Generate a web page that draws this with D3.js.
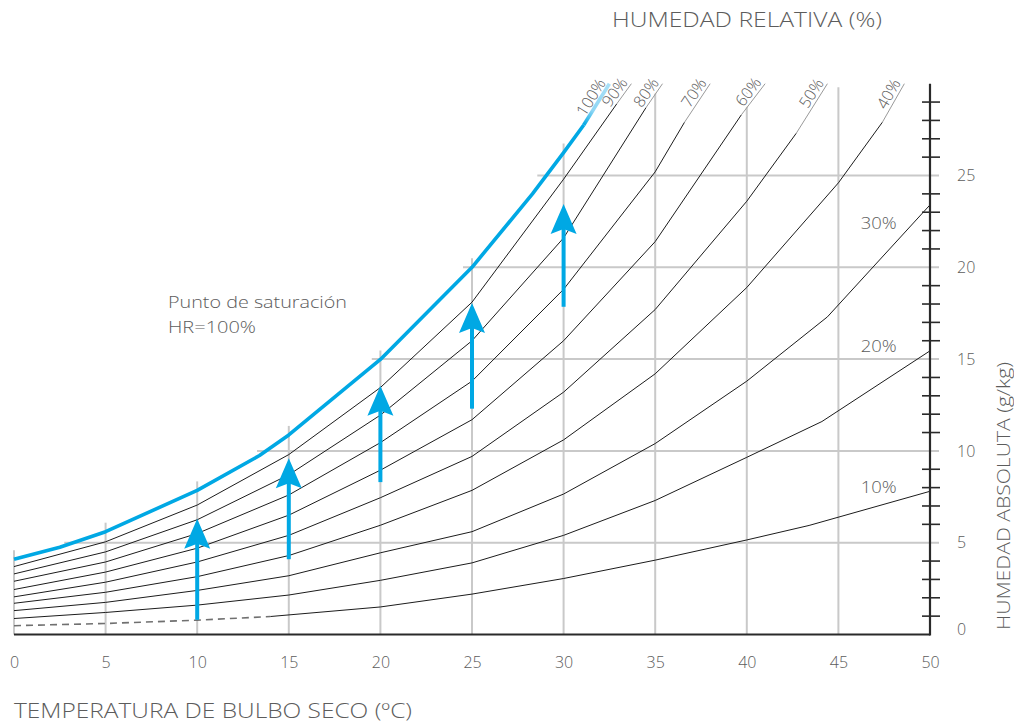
<!DOCTYPE html>
<html>
<head>
<meta charset="utf-8">
<script src="https://cdn.jsdelivr.net/npm/d3@7"></script>
<style>
  body { margin: 0; background: #fff; }
  text { font-family: "Open Sans", "Noto Sans", sans-serif; font-weight: 300; fill: #5c5c5c; }
</style>
</head>
<body>
<svg id="chart" width="1014" height="723"></svg>
<script>
// Relative-humidity curves: [dry-bulb temperature °C, absolute humidity g/kg].
// Curves that reach the top of the chart end with a short leader segment.
const rh100 = [[0,4.1],[2.5,4.75],[5,5.6],[10,7.85],[13.4,9.75],[15,10.87],[20,14.98],[25,20.0],[28.3,24.0],[30,26.25],[31.1,27.75],[32.5,30]];
const rh90  = [[0,3.7],[5,5.05],[10,7.05],[15,9.8],[20,13.45],[25,18.1],[30,24.8],[32.9,28.9],[33.7,30]];
const rh80  = [[0,3.3],[5,4.5],[10,6.25],[15,8.7],[20,11.95],[25,16.0],[30,21.6],[34.5,28.7],[35.4,30]];
const rh70  = [[0,2.9],[5,3.95],[10,5.5],[15,7.6],[20,10.45],[25,13.8],[30,18.8],[35,25.2],[36.6,27.9],[38,30]];
const rh60  = [[0,2.45],[5,3.4],[10,4.7],[15,6.5],[20,8.95],[25,11.7],[30,16.0],[35,21.4],[39.7,28.3],[41,30]];
const rh50  = [[0,2.05],[5,2.85],[10,3.95],[15,5.4],[20,7.45],[25,9.7],[30,13.2],[35,17.7],[40,23.6],[42.7,27.3],[44.4,30]];
const rh40  = [[0,1.7],[5,2.3],[10,3.15],[15,4.3],[20,5.95],[25,7.85],[30,10.6],[35,14.2],[40,18.9],[45,24.6],[47.4,27.9],[48.6,30]];
const rh30  = [[0,1.3],[5,1.75],[10,2.4],[15,3.2],[20,4.45],[25,5.6],[30,7.65],[35,10.4],[40,13.8],[44.4,17.3],[50,23.4]];
const rh20  = [[0,0.87],[5,1.2],[10,1.6],[15,2.15],[20,2.95],[25,3.9],[30,5.4],[35,7.3],[40,9.65],[44.1,11.6],[50,15.45]];
const rh10  = [[0,0.48],[5,0.6],[10,0.78],[14,0.98],[20,1.5],[25,2.2],[30,3.05],[35,4.05],[40,5.15],[43.4,5.94],[50,7.8]];
const rhLevels = [100, 90, 80, 70, 60, 50, 40, 30, 20, 10];
const dashedUntil = 14;            // the 10 % curve is dashed below this temperature

// Humidification arrows: temperature, start and end humidity (g/kg)
const arrowTemp = [10, 15, 20, 25, 30];
const arrowFrom = [0.8, 4.1, 8.3, 12.3, 17.85];
const arrowTo   = [6.3, 9.6, 13.55, 18.05, 23.45];

// Axis ticks
const tempTicks = [0, 5, 10, 15, 20, 25, 30, 35, 40, 45, 50];
const humTicks  = [0, 5, 10, 15, 20, 25];
const humMinor  = d3.range(1, 30).filter(v => v % 5 !== 0);

const curves = [rh100, rh90, rh80, rh70, rh60, rh50, rh40, rh30, rh20, rh10];

const svg = d3.select("#chart");
const x = d3.scaleLinear().domain([0, 50]).range([14, 930]);
const y = d3.scaleLinear().domain([0, 30]).range([634.5, 83.7]);

const BLUE = "#00a8e4", GRID = "#c9c9c9", AXIS = "#2a2a2a";

// saturation humidity along the 100 % curve, and its inverse
const satT = rh100.map(d => d[0]), satW = rh100.map(d => d[1]);
const satAt = t => {
  for (let i = 1; i < satT.length; i++) if (t <= satT[i])
    return satW[i-1] + (satW[i] - satW[i-1]) * (t - satT[i-1]) / (satT[i] - satT[i-1]);
  return satW[satW.length - 1];
};
const tempAtSat = w => {
  for (let i = 1; i < satW.length; i++) if (w <= satW[i])
    return satT[i-1] + (satT[i] - satT[i-1]) * (w - satW[i-1]) / (satW[i] - satW[i-1]);
  return satT[satT.length - 1];
};

// ---- grid (only below the saturation curve) ----
const grid = svg.append("g").attr("stroke", GRID).attr("stroke-width", 2);
tempTicks.filter(t => t < 50).forEach(t => {
  const top = t <= satT[satT.length - 1] ? Math.max(y(satAt(t)) - 9, y(29.8)) : y(29.8);
  grid.append("line").attr("x1", x(t)).attr("x2", x(t)).attr("y1", top).attr("y2", y(0));
});
humTicks.filter(v => v > 0).forEach(v => {
  grid.append("line").attr("x1", x(tempAtSat(v)) - 9).attr("x2", 939)
    .attr("y1", y(v)).attr("y2", y(v));
});

// ---- curve labels along the top leaders ----
const line = d3.line().x(d => x(d[0])).y(d => y(d[1]));
const labels = svg.append("g");
curves.forEach((pts, i) => {
  const last = pts[pts.length - 1];
  if (last[1] < 30) return;
  const a = pts[pts.length - 2];
  const ang = Math.atan2(y(last[1]) - y(a[1]), x(last[0]) - x(a[0])) * 180 / Math.PI;
  labels.append("text")
    .attr("transform", `translate(${x(last[0])},${y(last[1])}) rotate(${ang})`)
    .attr("text-anchor", "end").attr("dx", -1).attr("dy", -3)
    .attr("font-size", 16)
    .attr("stroke", "#fff").attr("stroke-width", 5).attr("paint-order", "stroke")
    .attr("stroke-linejoin", "round")
    .text(rhLevels[i] + "%");
});

// ---- side labels for the curves that end on the right axis ----
[["30%", 22.4], ["20%", 15.7], ["10%", 8.05]].forEach(([txt, w]) => {
  svg.append("text").attr("x", x(47.2)).attr("y", y(w)).attr("dy", "0.35em")
    .attr("text-anchor", "middle").attr("font-size", 17)
    .attr("textLength", 36).attr("lengthAdjust", "spacingAndGlyphs").text(txt);
});

// ---- relative humidity curves ----
const defs = svg.append("defs");
const curvesG = svg.append("g").attr("fill", "none");
curves.forEach((pts, i) => {
  const isSat = rhLevels[i] === 100;
  const last = pts[pts.length - 1];
  const reachesTop = last[1] >= 30;
  const body = reachesTop ? pts.slice(0, -1) : pts;
  if (rhLevels[i] === 10) {
    const dashed = body.filter(d => d[0] <= dashedUntil);
    const solid = body.filter(d => d[0] >= dashedUntil);
    curvesG.append("path").attr("d", line(dashed)).attr("stroke", "#707070")
      .attr("stroke-width", 1.6).attr("stroke-dasharray", "7,5");
    curvesG.append("path").attr("d", line(solid)).attr("stroke", "#1c1c1c").attr("stroke-width", 1);
  } else {
    curvesG.append("path").attr("d", line(body))
      .attr("stroke", isSat ? BLUE : "#1c1c1c")
      .attr("stroke-width", isSat ? 3.6 : 1)
      .attr("stroke-linejoin", "round");
  }
  if (reachesTop) {
    const seg = pts.slice(-2);
    if (isSat) {
      const g = defs.append("linearGradient").attr("id", "satFade")
        .attr("gradientUnits", "userSpaceOnUse")
        .attr("x1", x(seg[0][0])).attr("y1", y(seg[0][1]))
        .attr("x2", x(seg[1][0])).attr("y2", y(seg[1][1]));
      g.append("stop").attr("offset", "0%").attr("stop-color", BLUE);
      g.append("stop").attr("offset", "35%").attr("stop-color", "#8fd6f4");
      g.append("stop").attr("offset", "100%").attr("stop-color", "#a9e0f7");
      curvesG.append("path").attr("d", line(seg)).attr("stroke", "url(#satFade)").attr("stroke-width", 3.6);
    } else {
      curvesG.append("path").attr("d", line(seg)).attr("stroke", "#9a9a9a").attr("stroke-width", 1);
    }
  }
});

// ---- axes ----
svg.append("line").attr("x1", x(0)).attr("x2", x(50)).attr("y1", y(0)).attr("y2", y(0))
  .attr("stroke", AXIS).attr("stroke-width", 2.2);
svg.append("line").attr("x1", x(50)).attr("x2", x(50)).attr("y1", y(30)).attr("y2", y(0) + 1)
  .attr("stroke", AXIS).attr("stroke-width", 2.2);
const minor = svg.append("g").attr("stroke", AXIS).attr("stroke-width", 1.6);
humMinor.forEach(v => {
  minor.append("line").attr("x1", 922).attr("x2", 940).attr("y1", y(v)).attr("y2", y(v));
});

const xAxis = svg.append("g").attr("transform", `translate(0,${y(0)})`)
  .call(d3.axisBottom(x).tickValues(tempTicks).tickSize(0).tickPadding(22));
xAxis.select(".domain").remove();
xAxis.selectAll("text").attr("font-size", 16).attr("fill", "#5c5c5c")
  .style("font-family", '"Open Sans", sans-serif').style("font-weight", 300);

const yAxis = svg.append("g").attr("transform", `translate(${x(50)},0)`)
  .call(d3.axisRight(y).tickValues(humTicks).tickSize(0).tickPadding(27));
yAxis.select(".domain").remove();
yAxis.selectAll("text").attr("font-size", 16).attr("fill", "#5c5c5c")
  .style("font-family", '"Open Sans", sans-serif').style("font-weight", 300)
  .attr("dy", d => d === 0 ? "0.0em" : "0.32em");

// ---- humidification arrows ----
const arrows = svg.append("g");
arrowTemp.forEach((t, i) => {
  const ax = x(t), tip = y(arrowTo[i]);
  arrows.append("line").attr("x1", ax).attr("x2", ax).attr("y1", y(arrowFrom[i])).attr("y2", tip + 24)
    .attr("stroke", BLUE).attr("stroke-width", 4);
  arrows.append("path")
    .attr("d", `M${ax},${tip} L${ax + 13},${tip + 30} L${ax},${tip + 25} L${ax - 13},${tip + 30} Z`)
    .attr("fill", BLUE);
});

// ---- annotation and titles ----
svg.append("text").attr("x", 168).attr("y", 308).attr("font-size", 17)
  .attr("textLength", 179).attr("lengthAdjust", "spacingAndGlyphs").text("Punto de saturación");
svg.append("text").attr("x", 168).attr("y", 333).attr("font-size", 17)
  .attr("textLength", 88).attr("lengthAdjust", "spacingAndGlyphs").text("HR=100%");

svg.append("text").attr("x", 612).attr("y", 27).attr("font-size", 20)
  .attr("textLength", 270).attr("lengthAdjust", "spacingAndGlyphs").text("HUMEDAD RELATIVA (%)");
svg.append("text").attr("x", 14).attr("y", 718).attr("font-size", 20)
  .attr("textLength", 398).attr("lengthAdjust", "spacingAndGlyphs").text("TEMPERATURA DE BULBO SECO (ºC)");
svg.append("text").attr("transform", "translate(1010,630) rotate(-90)")
  .attr("font-size", 18).attr("textLength", 268).attr("lengthAdjust", "spacingAndGlyphs")
  .text("HUMEDAD ABSOLUTA (g/kg)");
</script>
</body>
</html>
